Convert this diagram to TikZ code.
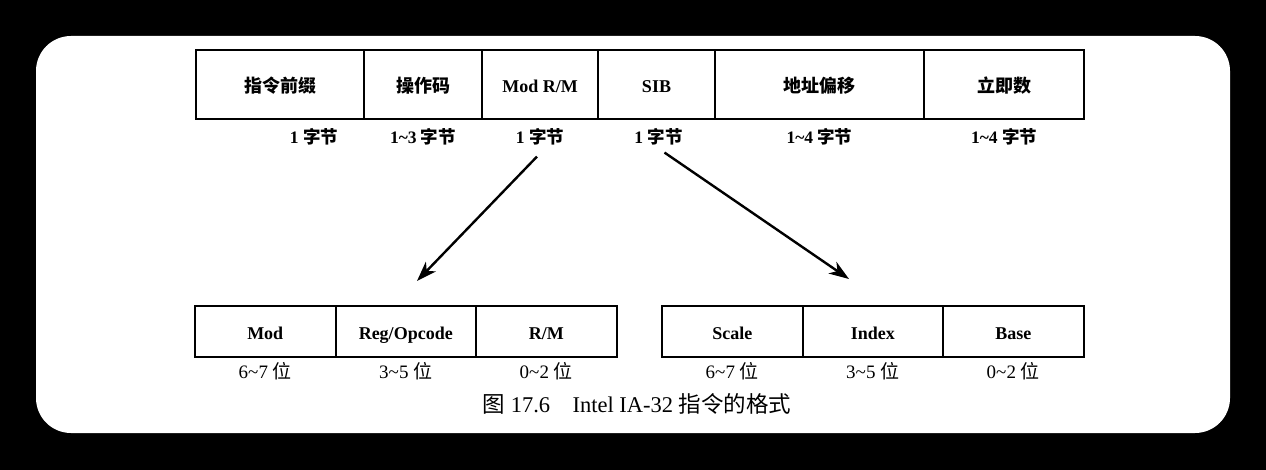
\documentclass[tikz,border=0pt]{standalone}
\usepackage{fontspec}
\setmainfont{Liberation Serif}
\newfontfamily\cjk{Noto Sans CJK SC}
\usetikzlibrary{positioning,arrows.meta}

\newcommand{\zh}[1]{{\cjk #1}}
\newcommand{\til}{\textasciitilde}

\tikzset{
  field/.style={draw, line width=2pt, outer sep=0pt, inner sep=0pt,
    minimum height=69pt, text height=16pt, text depth=0pt,
    font=\fontsize{18}{20}\selectfont\bfseries},
  bitfield/.style={field, minimum height=51pt, minimum width=140.5pt},
  bytelen/.style={inner sep=0pt, font=\fontsize{17.5}{20}\selectfont\bfseries},
  bitlen/.style={inner sep=0pt, font=\fontsize{19}{22}\selectfont},
  arr/.style={line width=2.4pt, -{Stealth[length=20pt,width=14pt,inset=6pt]}}
}

\begin{document}
\begin{tikzpicture}[x=1pt,y=-1pt]
  \useasboundingbox (0,0) rectangle (1266,470);
  \fill[black] (0,0) rectangle (1266,470);
  \fill[white, rounded corners=35pt] (36,36) rectangle (1230,433);

  % instruction format
  \node[field, minimum width=168pt, anchor=north west] (prefix) at (196,50) {\zh{指令前缀}};
  \node[field, minimum width=118pt, right=0pt of prefix] (opcode) {\zh{操作码}};
  \node[field, minimum width=116pt, right=0pt of opcode] (modrm) {Mod R/M};
  \node[field, minimum width=117pt, right=0pt of modrm] (sib) {SIB};
  \node[field, minimum width=209pt, right=0pt of sib] (disp) {\zh{地址偏移}};
  \node[field, minimum width=160pt, right=0pt of disp] (imm) {\zh{立即数}};

  \node[bytelen] (prefixlen) at ([xshift=34pt,yshift=-18pt]prefix.south) {1 \zh{字节}};
  \node[bytelen] (opcodelen) at ([yshift=-18pt]opcode.south) {1\til3 \zh{字节}};
  \node[bytelen] (modrmlen) at ([yshift=-18pt]modrm.south) {1 \zh{字节}};
  \node[bytelen] (siblen) at ([xshift=2pt,yshift=-18pt]sib.south) {1 \zh{字节}};
  \node[bytelen] (displen) at ([yshift=-18pt]disp.south) {1\til4 \zh{字节}};
  \node[bytelen] (immlen) at ([yshift=-18pt]imm.south) {1\til4 \zh{字节}};

  % ModR/M and SIB bytes
  \node[bitfield, anchor=north west] (mod) at (195,306) {Mod};
  \node[bitfield, right=0pt of mod] (reg) {Reg/Opcode};
  \node[bitfield, right=0pt of reg] (rm) {R/M};
  \node[bitfield, anchor=north west] (scale) at (662,306) {Scale};
  \node[bitfield, right=0pt of scale] (index) {Index};
  \node[bitfield, right=0pt of index] (base) {Base};

  \foreach \f/\r in {mod/6\til7, reg/3\til5, rm/0\til2, scale/6\til7, index/3\til5, base/0\til2}
    \node[bitlen] (\f-bits) at ([yshift=-14pt]\f.south) {\r\ \zh{位}};

  \coordinate (modrmtip) at (417,281);
  \coordinate (sibtip) at (849,279);
  \draw[arr] ([shift={(-3pt,-11pt)}]modrmlen.south) -- (modrmtip);
  \draw[arr] ([shift={(6pt,-7pt)}]siblen.south) -- (sibtip);

  \node[font=\fontsize{22.5}{26}\selectfont] (caption) at (637,404)
    {\zh{图} 17.6\quad Intel IA-32 \zh{指令的格式}};
\end{tikzpicture}
\end{document}
